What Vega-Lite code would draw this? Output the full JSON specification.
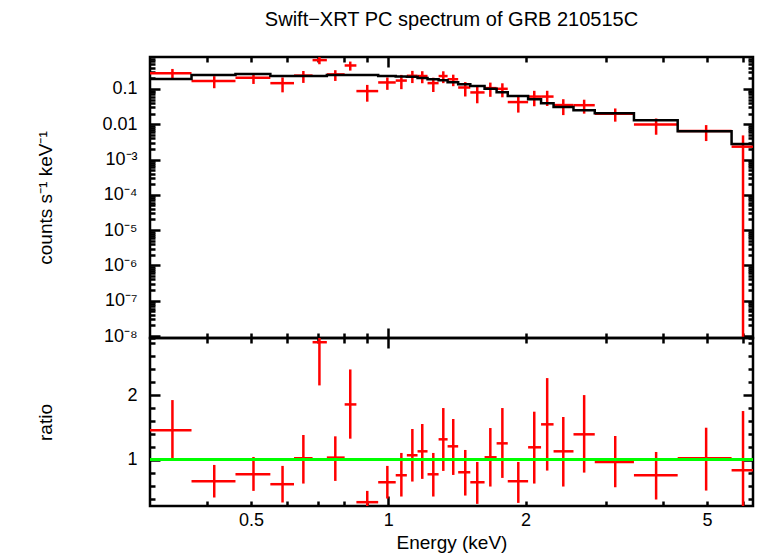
{
  "$schema": "https://vega.github.io/schema/vega-lite/v6.json",
  "background": "white",
  "bounds": "flush",
  "padding": {"left": 34, "top": 9, "right": 5, "bottom": 5},
  "title": {"text": "Swift−XRT PC spectrum of GRB 210515C", "font": "Liberation Sans", "fontSize": 20, "fontWeight": "normal", "color": "black", "anchor": "middle", "frame": "group", "offset": 25},
  "config": {
    "view": {"stroke": "black", "strokeWidth": 2.5},
    "font": "Liberation Sans",
    "axis": {"domain": false, "grid": false, "tickColor": "black", "tickWidth": 2.5, "labelFont": "Liberation Sans", "labelFontSize": 18, "labelColor": "black", "titleFont": "Liberation Sans", "titleFontSize": 19, "titleFontWeight": "normal", "titleColor": "black", "labelOverlap": false, "labelFlush": false, "labelBound": false}
  },
  "datasets": {
    "bins": [
      {"E": 0.336, "elo": 0.300, "ehi": 0.370, "rate": 0.278, "rlo": 0.193, "rhi": 0.367, "ratio": 1.456, "qlo": 1.010, "qhi": 1.923},
      {"E": 0.415, "elo": 0.370, "ehi": 0.462, "rate": 0.1667, "rlo": 0.1044, "rhi": 0.229, "ratio": 0.672, "qlo": 0.421, "qhi": 0.923},
      {"E": 0.506, "elo": 0.462, "ehi": 0.551, "rate": 0.2057, "rlo": 0.138, "rhi": 0.276, "ratio": 0.779, "qlo": 0.523, "qhi": 1.046},
      {"E": 0.586, "elo": 0.551, "ehi": 0.621, "rate": 0.1452, "rlo": 0.0798, "rhi": 0.2107, "ratio": 0.626, "qlo": 0.344, "qhi": 0.908},
      {"E": 0.651, "elo": 0.621, "ehi": 0.682, "rate": 0.238, "rlo": 0.1476, "rhi": 0.3213, "ratio": 1.026, "qlo": 0.636, "qhi": 1.385},
      {"E": 0.706, "elo": 0.682, "ehi": 0.733, "rate": 0.653, "rlo": 0.4986, "rhi": 0.807, "ratio": 2.815, "qlo": 2.149, "qhi": 3.48},
      {"E": 0.765, "elo": 0.733, "ehi": 0.802, "rate": 0.2569, "rlo": 0.1679, "rhi": 0.3383, "ratio": 1.036, "qlo": 0.677, "qhi": 1.364},
      {"E": 0.825, "elo": 0.802, "ehi": 0.851, "rate": 0.4603, "rlo": 0.3293, "rhi": 0.594, "ratio": 1.856, "qlo": 1.328, "qhi": 2.395},
      {"E": 0.899, "elo": 0.851, "ehi": 0.950, "rate": 0.0866, "rlo": 0.0434, "rhi": 0.1297, "ratio": 0.349, "qlo": 0.175, "qhi": 0.523},
      {"E": 0.995, "elo": 0.950, "ehi": 1.038, "rate": 0.1522, "rlo": 0.094, "rhi": 0.2107, "ratio": 0.656, "qlo": 0.405, "qhi": 0.908},
      {"E": 1.068, "elo": 1.038, "ehi": 1.098, "rate": 0.1719, "rlo": 0.0981, "rhi": 0.2493, "ratio": 0.764, "qlo": 0.436, "qhi": 1.108},
      {"E": 1.129, "elo": 1.098, "ehi": 1.159, "rate": 0.2348, "rlo": 0.1461, "rhi": 0.3235, "ratio": 1.072, "qlo": 0.667, "qhi": 1.477},
      {"E": 1.187, "elo": 1.159, "ehi": 1.219, "rate": 0.2311, "rlo": 0.1444, "rhi": 0.317, "ratio": 1.133, "qlo": 0.708, "qhi": 1.554},
      {"E": 1.255, "elo": 1.219, "ehi": 1.289, "rate": 0.1457, "rlo": 0.0815, "rhi": 0.2072, "ratio": 0.779, "qlo": 0.436, "qhi": 1.108},
      {"E": 1.320, "elo": 1.289, "ehi": 1.349, "rate": 0.2307, "rlo": 0.1454, "rhi": 0.315, "ratio": 1.318, "qlo": 0.831, "qhi": 1.8},
      {"E": 1.388, "elo": 1.349, "ehi": 1.423, "rate": 0.1876, "rlo": 0.1192, "rhi": 0.2528, "ratio": 1.210, "qlo": 0.769, "qhi": 1.631},
      {"E": 1.475, "elo": 1.423, "ehi": 1.513, "rate": 0.1094, "rlo": 0.0609, "rhi": 0.1558, "ratio": 0.810, "qlo": 0.451, "qhi": 1.154},
      {"E": 1.567, "elo": 1.513, "ehi": 1.626, "rate": 0.0794, "rlo": 0.0391, "rhi": 0.1172, "ratio": 0.656, "qlo": 0.323, "qhi": 0.969},
      {"E": 1.674, "elo": 1.626, "ehi": 1.728, "rate": 0.1051, "rlo": 0.0596, "rhi": 0.1507, "ratio": 1.041, "qlo": 0.590, "qhi": 1.492},
      {"E": 1.779, "elo": 1.728, "ehi": 1.828, "rate": 0.1005, "rlo": 0.0578, "rhi": 0.144, "ratio": 1.256, "qlo": 0.723, "qhi": 1.8},
      {"E": 1.928, "elo": 1.828, "ehi": 2.026, "rate": 0.0423, "rlo": 0.0213, "rhi": 0.061, "ratio": 0.672, "qlo": 0.338, "qhi": 0.969},
      {"E": 2.090, "elo": 2.026, "ehi": 2.163, "rate": 0.0605, "rlo": 0.0322, "rhi": 0.0882, "ratio": 1.195, "qlo": 0.636, "qhi": 1.744},
      {"E": 2.231, "elo": 2.163, "ehi": 2.304, "rate": 0.0606, "rlo": 0.0327, "rhi": 0.0884, "ratio": 1.549, "qlo": 0.836, "qhi": 2.262},
      {"E": 2.420, "elo": 2.304, "ehi": 2.548, "rate": 0.0348, "rlo": 0.0181, "rhi": 0.051, "ratio": 1.133, "qlo": 0.590, "qhi": 1.662},
      {"E": 2.689, "elo": 2.548, "ehi": 2.837, "rate": 0.0345, "rlo": 0.0199, "rhi": 0.0494, "ratio": 1.395, "qlo": 0.805, "qhi": 2.0},
      {"E": 3.146, "elo": 2.837, "ehi": 3.458, "rate": 0.0198, "rlo": 0.0118, "rhi": 0.0279, "ratio": 0.969, "qlo": 0.579, "qhi": 1.369},
      {"E": 3.868, "elo": 3.458, "ehi": 4.313, "rate": 0.00986, "rlo": 0.00503, "rhi": 0.01449, "ratio": 0.764, "qlo": 0.390, "qhi": 1.123},
      {"E": 4.98, "elo": 4.313, "ehi": 5.663, "rate": 0.00646, "rlo": 0.00333, "rhi": 0.00943, "ratio": 1.026, "qlo": 0.528, "qhi": 1.497},
      {"E": 6.0, "elo": 5.663, "ehi": 6.34, "rate": 0.00231, "rlo": 1e-9, "rhi": 0.00482, "ratio": 0.841, "qlo": -0.07, "qhi": 1.754}
    ],
    "model": [
      {"edge": 0.300, "m": 0.191}, {"edge": 0.370, "m": 0.248}, {"edge": 0.462, "m": 0.264},
      {"edge": 0.551, "m": 0.232}, {"edge": 0.621, "m": 0.232}, {"edge": 0.682, "m": 0.232},
      {"edge": 0.733, "m": 0.248}, {"edge": 0.802, "m": 0.248}, {"edge": 0.851, "m": 0.248},
      {"edge": 0.950, "m": 0.232}, {"edge": 1.038, "m": 0.225}, {"edge": 1.098, "m": 0.219},
      {"edge": 1.159, "m": 0.204}, {"edge": 1.219, "m": 0.187}, {"edge": 1.289, "m": 0.175},
      {"edge": 1.349, "m": 0.155}, {"edge": 1.423, "m": 0.135}, {"edge": 1.513, "m": 0.121},
      {"edge": 1.626, "m": 0.101}, {"edge": 1.728, "m": 0.080}, {"edge": 1.828, "m": 0.063},
      {"edge": 2.026, "m": 0.0506}, {"edge": 2.163, "m": 0.0391}, {"edge": 2.304, "m": 0.0307},
      {"edge": 2.548, "m": 0.0247}, {"edge": 2.837, "m": 0.0204}, {"edge": 3.458, "m": 0.0129},
      {"edge": 4.313, "m": 0.0063}, {"edge": 5.663, "m": 0.00275}, {"edge": 6.34, "m": 0.00275}
    ]
  },
  "spacing": 0,
  "vconcat": [
    {
      "width": 603,
      "height": 281,
      "data": {"name": "bins"},
      "resolve": {"axis": {"x": "independent", "y": "independent"}},
      "layer": [
        {
          "mark": {"type": "rule", "color": "#ff0000", "strokeWidth": 2.5, "clip": true},
          "encoding": {
            "x": {"field": "elo", "type": "quantitative", "scale": {"type": "log", "domain": [0.3, 6.31], "nice": false}, "axis": {"orient": "bottom", "values": [1], "tickSize": -10, "labels": false, "title": null}},
            "x2": {"field": "ehi"},
            "y": {"field": "rate", "type": "quantitative", "scale": {"type": "log", "domain": [8.8e-9, 0.8], "nice": false}, "axis": {"orient": "left", "values": [1e-8, 1e-7, 1e-6, 1e-5, 1e-4, 0.001, 0.01, 0.1], "tickSize": -10, "labelPadding": 23, "labelExpr": "datum.value > 0.05 ? '0.1' : datum.value > 0.005 ? '0.01' : '10⁻' + ['', '', '', '³', '⁴', '⁵', '⁶', '⁷', '⁸', '⁹'][round(-log(datum.value) / LN10)]", "title": "counts s⁻¹ keV⁻¹", "minExtent": 50, "maxExtent": 50, "titlePadding": 45}}
          }
        },
        {
          "mark": {"type": "rule", "color": "#ff0000", "strokeWidth": 2.5, "clip": true},
          "encoding": {
            "x": {"field": "E", "type": "quantitative", "scale": {"type": "log", "domain": [0.3, 6.31], "nice": false}, "axis": {"orient": "top", "values": [1], "tickSize": -10, "labels": false, "title": null}},
            "y": {"field": "rlo", "type": "quantitative", "scale": {"type": "log", "domain": [8.8e-9, 0.8], "nice": false}, "axis": {"orient": "right", "values": [1e-8, 1e-7, 1e-6, 1e-5, 1e-4, 0.001, 0.01, 0.1], "tickSize": -10, "labels": false, "title": null}},
            "y2": {"field": "rhi"}
          }
        },
        {
          "data": {"name": "model"},
          "mark": {"type": "line", "interpolate": "step-after", "color": "black", "strokeWidth": 2.5, "clip": true},
          "encoding": {
            "x": {"field": "edge", "type": "quantitative", "scale": {"type": "log", "domain": [0.3, 6.31], "nice": false}, "axis": {"orient": "bottom", "values": [0.4, 0.5, 0.6, 0.7, 0.8, 0.9, 2, 3, 4, 5, 6], "tickSize": -5, "labels": false, "title": null}},
            "y": {"field": "m", "type": "quantitative", "scale": {"type": "log", "domain": [8.8e-9, 0.8], "nice": false}, "axis": {"orient": "left", "values": [9e-9, 2e-8, 3e-8, 4e-8, 5e-8, 6e-8, 7e-8, 8e-8, 9e-8, 2e-7, 3e-7, 4e-7, 5e-7, 6e-7, 7e-7, 8e-7, 9e-7, 2e-6, 3e-6, 4e-6, 5e-6, 6e-6, 7e-6, 8e-6, 9e-6, 2e-5, 3e-5, 4e-5, 5e-5, 6e-5, 7e-5, 8e-5, 9e-5, 0.0002, 0.0003, 0.0004, 0.0005, 0.0006, 0.0007, 0.0008, 0.0009, 0.002, 0.003, 0.004, 0.005, 0.006, 0.007, 0.008, 0.009, 0.02, 0.03, 0.04, 0.05, 0.06, 0.07, 0.08, 0.09, 0.2, 0.3, 0.4, 0.5, 0.6, 0.7], "tickSize": -5, "labels": false, "title": null}}
          }
        },
        {
          "mark": {"type": "rule", "opacity": 0},
          "encoding": {
            "x": {"field": "elo", "type": "quantitative", "scale": {"type": "log", "domain": [0.3, 6.31], "nice": false}, "axis": {"orient": "top", "values": [0.4, 0.5, 0.6, 0.7, 0.8, 0.9, 2, 3, 4, 5, 6], "tickSize": -5, "labels": false, "title": null}},
            "x2": {"field": "ehi"},
            "y": {"field": "rate", "type": "quantitative", "scale": {"type": "log", "domain": [8.8e-9, 0.8], "nice": false}, "axis": {"orient": "right", "values": [9e-9, 2e-8, 3e-8, 4e-8, 5e-8, 6e-8, 7e-8, 8e-8, 9e-8, 2e-7, 3e-7, 4e-7, 5e-7, 6e-7, 7e-7, 8e-7, 9e-7, 2e-6, 3e-6, 4e-6, 5e-6, 6e-6, 7e-6, 8e-6, 9e-6, 2e-5, 3e-5, 4e-5, 5e-5, 6e-5, 7e-5, 8e-5, 9e-5, 0.0002, 0.0003, 0.0004, 0.0005, 0.0006, 0.0007, 0.0008, 0.0009, 0.002, 0.003, 0.004, 0.005, 0.006, 0.007, 0.008, 0.009, 0.02, 0.03, 0.04, 0.05, 0.06, 0.07, 0.08, 0.09, 0.2, 0.3, 0.4, 0.5, 0.6, 0.7], "tickSize": -5, "labels": false, "title": null}}
          }
        }
      ]
    },
    {
      "width": 603,
      "height": 168,
      "data": {"name": "bins"},
      "resolve": {"axis": {"x": "independent", "y": "independent"}},
      "layer": [
        {
          "mark": {"type": "rule", "color": "#ff0000", "strokeWidth": 2.5, "clip": true},
          "encoding": {
            "x": {"field": "elo", "type": "quantitative", "scale": {"type": "log", "domain": [0.3, 6.31], "nice": false}, "axis": {"orient": "bottom", "values": [1], "tickSize": -10, "labelPadding": 15, "labelExpr": "'1'", "title": "Energy (keV)", "minExtent": 23, "maxExtent": 23, "titlePadding": 4}},
            "x2": {"field": "ehi"},
            "y": {"field": "ratio", "type": "quantitative", "scale": {"domain": [0.29, 2.88], "nice": false, "zero": false}, "axis": {"orient": "left", "values": [1, 2], "tickSize": -10, "labelPadding": 23, "format": "d", "title": "ratio", "minExtent": 50, "maxExtent": 50, "titlePadding": 45}}
          }
        },
        {
          "mark": {"type": "rule", "color": "#ff0000", "strokeWidth": 2.5, "clip": true},
          "encoding": {
            "x": {"field": "E", "type": "quantitative", "scale": {"type": "log", "domain": [0.3, 6.31], "nice": false}, "axis": {"orient": "top", "values": [1], "tickSize": -10, "labels": false, "title": null}},
            "y": {"field": "qlo", "type": "quantitative", "scale": {"domain": [0.29, 2.88], "nice": false, "zero": false}, "axis": {"orient": "right", "values": [1, 2], "tickSize": -10, "labels": false, "title": null}},
            "y2": {"field": "qhi"}
          }
        },
        {
          "mark": {"type": "rule", "color": "#00ff00", "strokeWidth": 2.3},
          "encoding": {
            "y": {"datum": 1, "type": "quantitative", "scale": {"domain": [0.29, 2.88], "nice": false, "zero": false}, "axis": null}
          }
        },
        {
          "mark": {"type": "rule", "opacity": 0},
          "encoding": {
            "x": {"field": "elo", "type": "quantitative", "scale": {"type": "log", "domain": [0.3, 6.31], "nice": false}, "axis": {"orient": "bottom", "values": [0.4, 0.5, 0.6, 0.7, 0.8, 0.9, 2, 3, 4, 5, 6], "tickSize": -5, "labelPadding": 10, "labelExpr": "datum.value == 0.5 ? '0.5' : datum.value == 2 ? '2' : datum.value == 5 ? '5' : ''", "title": null}},
            "x2": {"field": "ehi"},
            "y": {"field": "ratio", "type": "quantitative", "scale": {"domain": [0.29, 2.88], "nice": false, "zero": false}, "axis": {"orient": "left", "values": [0.4, 0.6, 0.8, 1.2, 1.4, 1.6, 1.8, 2.2, 2.4, 2.6, 2.8], "tickSize": -5, "labels": false, "title": null}}
          }
        },
        {
          "mark": {"type": "rule", "opacity": 0},
          "encoding": {
            "x": {"field": "elo", "type": "quantitative", "scale": {"type": "log", "domain": [0.3, 6.31], "nice": false}, "axis": {"orient": "top", "values": [0.4, 0.5, 0.6, 0.7, 0.8, 0.9, 2, 3, 4, 5, 6], "tickSize": -5, "labels": false, "title": null}},
            "x2": {"field": "ehi"},
            "y": {"field": "ratio", "type": "quantitative", "scale": {"domain": [0.29, 2.88], "nice": false, "zero": false}, "axis": {"orient": "right", "values": [0.4, 0.6, 0.8, 1.2, 1.4, 1.6, 1.8, 2.2, 2.4, 2.6, 2.8], "tickSize": -5, "labels": false, "title": null}}
          }
        }
      ]
    }
  ]
}
